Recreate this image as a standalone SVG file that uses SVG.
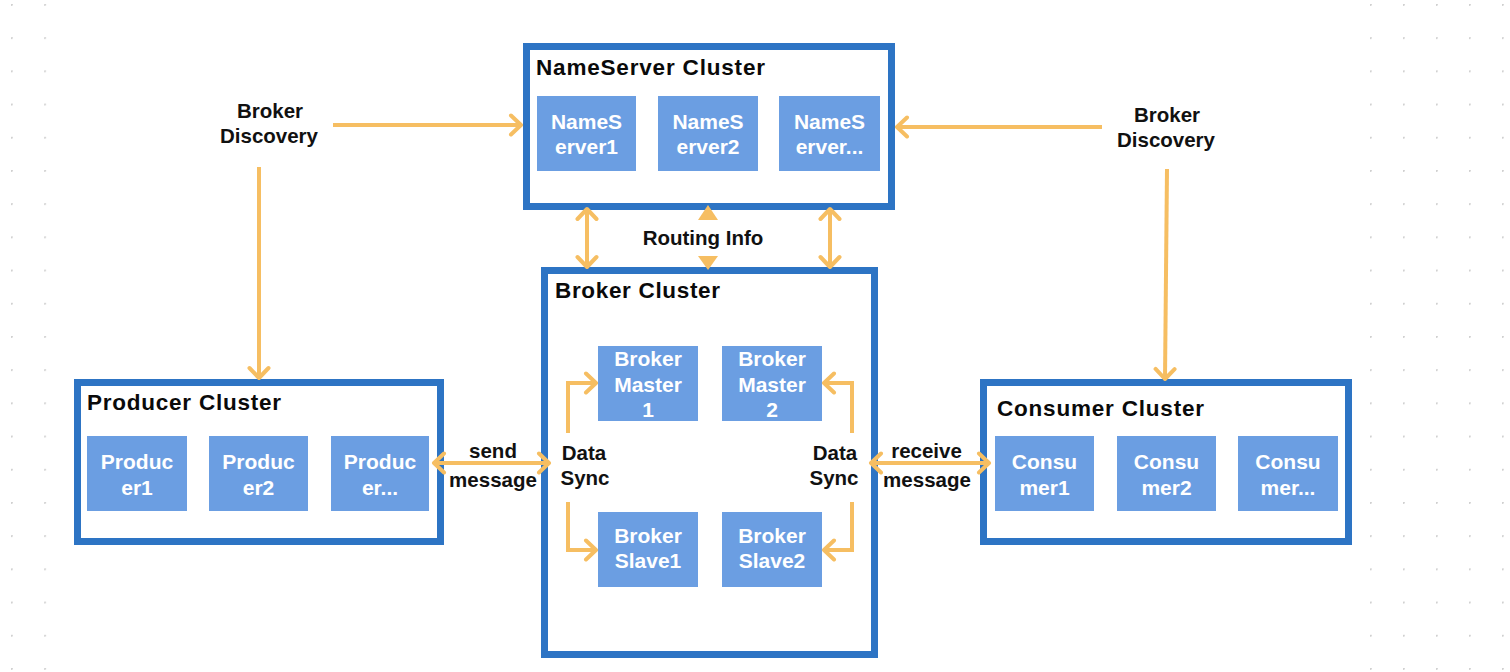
<svg xmlns="http://www.w3.org/2000/svg" width="1510" height="672" viewBox="0 0 1510 672">
  <defs>
    <style>
      .cluster { fill: #ffffff; stroke: #2D74C4; stroke-width: 7; }
      .node { fill: #6B9EE2; }
      .title { font-family: "Liberation Sans", Arial, sans-serif; font-weight: bold; font-size: 22.5px; fill: #0a0a0a; }
      .ntext { font-family: "Liberation Sans", Arial, sans-serif; font-weight: bold; font-size: 21px; fill: #ffffff; text-anchor: middle; }
      .label { font-family: "Liberation Sans", Arial, sans-serif; font-weight: bold; font-size: 20.5px; fill: #111111; text-anchor: middle; }
      .conn { fill: none; stroke: #F6BE62; stroke-width: 4; }
      .head { fill: #F6BE62; }
    </style>
    <marker id="ah" viewBox="0 0 16 24" markerWidth="16" markerHeight="24" refX="13" refY="12" markerUnits="userSpaceOnUse" orient="auto-start-reverse">
      <path d="M3,2.5 L13,12 L3,21.5" fill="none" stroke="#F6BE62" stroke-width="4" stroke-linecap="round" stroke-linejoin="round"/>
    </marker>
    <pattern id="dotsL" x="11" y="4" width="33.2" height="33.2" patternUnits="userSpaceOnUse">
      <circle cx="0.8" cy="0.8" r="1.1" fill="#d0d0d0"/>
    </pattern>
    <pattern id="dotsR" x="1370" y="4" width="33" height="33.2" patternUnits="userSpaceOnUse">
      <circle cx="0.8" cy="0.8" r="1.1" fill="#d0d0d0"/>
    </pattern>
  </defs>

  <rect x="0" y="0" width="1510" height="672" fill="#ffffff"/>
  <rect x="0" y="0" width="60" height="672" fill="url(#dotsL)"/>
  <rect x="1360" y="0" width="150" height="672" fill="url(#dotsR)"/>

  <!-- NameServer Cluster -->
  <g id="nameserver-cluster">
    <rect class="cluster" x="526.5" y="46.5" width="365" height="160"/>
    <text class="title" x="536" y="75" textLength="229" lengthAdjust="spacing">NameServer Cluster</text>
  </g>
  <g id="nameserver1">
    <rect class="node" x="537" y="96" width="99" height="75"/>
    <text class="ntext" x="586.5" y="129">NameS</text>
    <text class="ntext" x="586.5" y="154">erver1</text>
  </g>
  <g id="nameserver2">
    <rect class="node" x="658" y="96" width="100" height="75"/>
    <text class="ntext" x="708" y="129">NameS</text>
    <text class="ntext" x="708" y="154">erver2</text>
  </g>
  <g id="nameserver3">
    <rect class="node" x="779" y="96" width="101" height="75"/>
    <text class="ntext" x="829.5" y="129">NameS</text>
    <text class="ntext" x="829.5" y="154">erver...</text>
  </g>

  <!-- Broker Cluster -->
  <g id="broker-cluster">
    <rect class="cluster" x="544.5" y="270.5" width="330" height="384"/>
    <text class="title" x="555" y="298" textLength="165" lengthAdjust="spacing">Broker Cluster</text>
  </g>
  <g id="broker-master1">
    <rect class="node" x="598" y="346" width="100" height="75"/>
    <text class="ntext" x="648" y="366">Broker</text>
    <text class="ntext" x="648" y="392">Master</text>
    <text class="ntext" x="648" y="417">1</text>
  </g>
  <g id="broker-master2">
    <rect class="node" x="722" y="346" width="100" height="75"/>
    <text class="ntext" x="772" y="366">Broker</text>
    <text class="ntext" x="772" y="392">Master</text>
    <text class="ntext" x="772" y="417">2</text>
  </g>
  <g id="broker-slave1">
    <rect class="node" x="598" y="512" width="100" height="75"/>
    <text class="ntext" x="648" y="543">Broker</text>
    <text class="ntext" x="648" y="568">Slave1</text>
  </g>
  <g id="broker-slave2">
    <rect class="node" x="722" y="512" width="100" height="75"/>
    <text class="ntext" x="772" y="543">Broker</text>
    <text class="ntext" x="772" y="568">Slave2</text>
  </g>

  <!-- Producer Cluster -->
  <g id="producer-cluster">
    <rect class="cluster" x="77.5" y="382.5" width="363" height="159"/>
    <text class="title" x="87" y="410" textLength="194" lengthAdjust="spacing">Producer Cluster</text>
  </g>
  <g id="producer1">
    <rect class="node" x="87" y="436" width="100" height="75"/>
    <text class="ntext" x="137" y="469">Produc</text>
    <text class="ntext" x="137" y="495">er1</text>
  </g>
  <g id="producer2">
    <rect class="node" x="209" y="436" width="99" height="75"/>
    <text class="ntext" x="258.5" y="469">Produc</text>
    <text class="ntext" x="258.5" y="495">er2</text>
  </g>
  <g id="producer3">
    <rect class="node" x="331" y="436" width="98" height="75"/>
    <text class="ntext" x="380" y="469">Produc</text>
    <text class="ntext" x="380" y="495">er...</text>
  </g>

  <!-- Consumer Cluster -->
  <g id="consumer-cluster">
    <rect class="cluster" x="983.5" y="382.5" width="365" height="159"/>
    <text class="title" x="997" y="416" textLength="207" lengthAdjust="spacing">Consumer Cluster</text>
  </g>
  <g id="consumer1">
    <rect class="node" x="995" y="436" width="99" height="75"/>
    <text class="ntext" x="1044.5" y="469">Consu</text>
    <text class="ntext" x="1044.5" y="495">mer1</text>
  </g>
  <g id="consumer2">
    <rect class="node" x="1117" y="436" width="99" height="75"/>
    <text class="ntext" x="1166.5" y="469">Consu</text>
    <text class="ntext" x="1166.5" y="495">mer2</text>
  </g>
  <g id="consumer3">
    <rect class="node" x="1238" y="436" width="100" height="75"/>
    <text class="ntext" x="1288" y="469">Consu</text>
    <text class="ntext" x="1288" y="495">mer...</text>
  </g>

  <!-- Connectors -->
  <g id="connectors">
    <line class="conn" x1="333" y1="125" x2="521" y2="125" marker-end="url(#ah)"/>
    <line class="conn" x1="259" y1="167" x2="259" y2="378" marker-end="url(#ah)"/>
    <line class="conn" x1="1102" y1="127" x2="897" y2="127" marker-end="url(#ah)"/>
    <line class="conn" x1="1167" y1="169" x2="1165" y2="379" marker-end="url(#ah)"/>

    <line class="conn" x1="587" y1="209" x2="587" y2="267" marker-start="url(#ah)" marker-end="url(#ah)"/>
    <line class="conn" x1="830" y1="209" x2="830" y2="267" marker-start="url(#ah)" marker-end="url(#ah)"/>
    <path class="head" d="M708,205 L718,220 L698,220 Z"/>
    <path class="head" d="M708,270 L718,256 L698,256 Z"/>

    <line class="conn" x1="434" y1="463" x2="549" y2="463" marker-start="url(#ah)" marker-end="url(#ah)"/>
    <line class="conn" x1="871" y1="463" x2="989" y2="463" marker-start="url(#ah)" marker-end="url(#ah)"/>

    <polyline class="conn" points="568,433 568,383 596,383" marker-end="url(#ah)"/>
    <polyline class="conn" points="568,502 568,550 596,550" marker-end="url(#ah)"/>
    <polyline class="conn" points="852,433 852,383 824,383" marker-end="url(#ah)"/>
    <polyline class="conn" points="852,502 852,550 824,550" marker-end="url(#ah)"/>
  </g>

  <!-- Labels -->
  <g id="labels">
    <text class="label" x="270" y="118">Broker</text>
    <text class="label" x="269" y="143">Discovery</text>
    <text class="label" x="1167" y="122">Broker</text>
    <text class="label" x="1166" y="147">Discovery</text>
    <text class="label" x="703" y="245">Routing Info</text>
    <text class="label" x="493" y="458">send</text>
    <text class="label" x="493" y="487">message</text>
    <text class="label" x="926.5" y="458">receive</text>
    <text class="label" x="927" y="487">message</text>
    <text class="label" x="584" y="460">Data</text>
    <text class="label" x="585" y="485">Sync</text>
    <text class="label" x="835" y="460">Data</text>
    <text class="label" x="834" y="485">Sync</text>
  </g>
</svg>
